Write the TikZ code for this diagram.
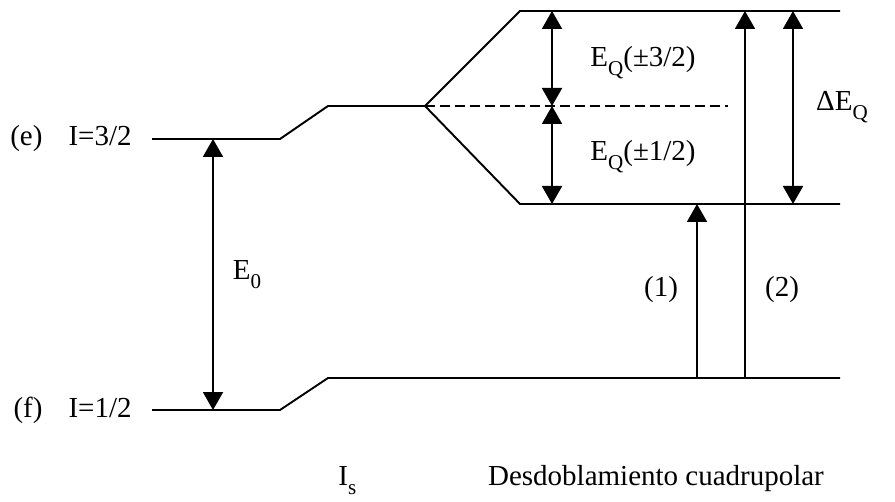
\documentclass[tikz,border=0pt]{standalone}
\usepackage{fontspec}
\setmainfont{Liberation Serif}
\usetikzlibrary{arrows.meta,positioning}
\newcommand{\sbs}[1]{\raisebox{-5pt}{\fontsize{12}{12}\selectfont #1}}

\begin{document}
\begin{tikzpicture}[x=0.02cm,y=-0.02cm,
      lv/.style={line width=1.1pt},
      a/.style={line width=1.1pt,-{Triangle[length=3.6mm,width=4mm]}},
      aa/.style={a,{Triangle[length=3.6mm,width=4mm]}-{Triangle[length=3.6mm,width=4mm]}},
      t/.style={font=\fontsize{16.5}{19}\selectfont,inner sep=0pt}]
  \useasboundingbox (0,0) rectangle (895,502);
  % niveles
  \coordinate (e1) at (152,139); \coordinate (e2) at (280,139);
  \coordinate (e3) at (328,106); \coordinate (e4) at (425,106);
  \coordinate (q1) at (520,11);  \coordinate (q2) at (840,11);
  \coordinate (q3) at (520,204); \coordinate (q4) at (840,204);
  \coordinate (qm) at (728,106);
  \coordinate (f1) at (152,410); \coordinate (f2) at (280,410);
  \coordinate (f3) at (328,378); \coordinate (f4) at (840,378);
  \draw[lv] (e1) -- (e2) -- (e3) -- (e4) -- (q1) -- (q2);
  \draw[lv] (e4) -- (q3) -- (q4);
  \draw[lv,dash pattern=on 2mm off 1mm] (e4) -- (qm);
  \draw[lv] (f1) -- (f2) -- (f3) -- (f4);
  % flechas
  \draw[aa] (213,139) -- (213,410);
  \draw[aa] (552,11) -- (552,106);
  \draw[aa] (552,204) -- (552,106);
  \draw[a] (697,378) -- (697,204);
  \draw[a] (745,378) -- (745,11);
  \draw[aa] (793,11) -- (793,204);
  % textos
  \node[t,left=4mm of e1] (le) {(e)\hspace{0.9em}I=3/2};
  \node[t,left=4mm of f1] (lf) {(f)\hspace{0.9em}I=1/2};
  \node[t] (le0) at (247,275) {E\sbs{0}};
  \node[t] (lq3) at (643,63) {E\sbs{Q}(±3/2)};
  \node[t] (lq1) at (643,157) {E\sbs{Q}(±1/2)};
  \node[t] (ldq) at (842,107) {ΔE\sbs{Q}};
  \node[t] (l1) at (661,290) {(1)};
  \node[t] (l2) at (782,290) {(2)};
  \node[t,anchor=base west] (lis) at (338,486) {I\sbs{s}};
  \node[t,anchor=base] (ldc) at (656,486) {Desdoblamiento cuadrupolar};
\end{tikzpicture}
\end{document}
